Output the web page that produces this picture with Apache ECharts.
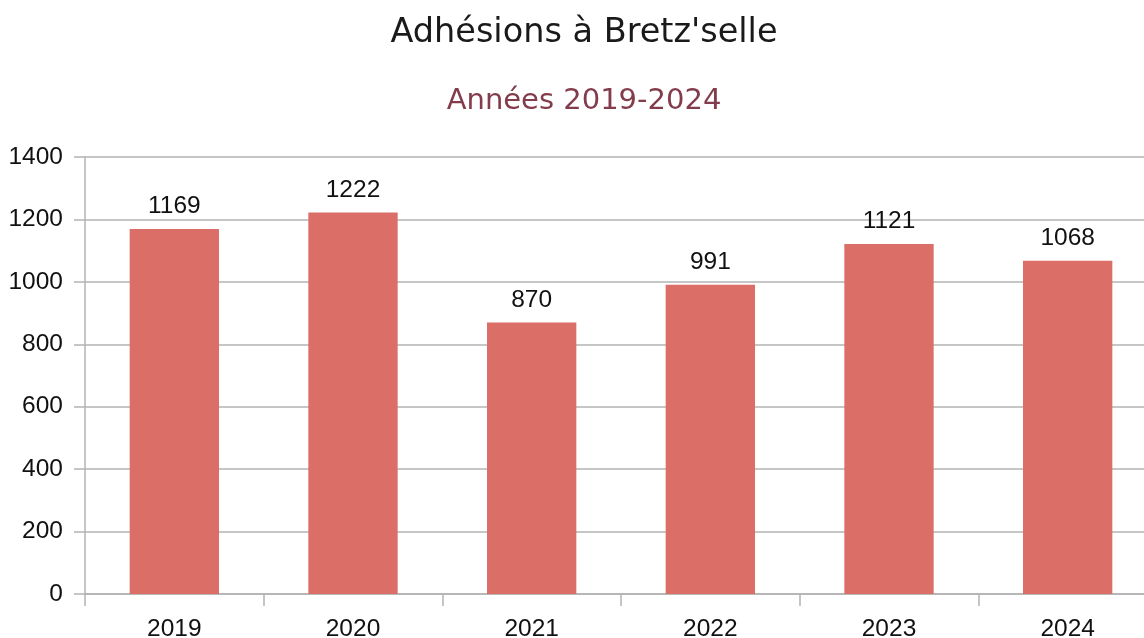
<!DOCTYPE html>
<html>
<head>
    <meta charset="utf-8">
    <title>Adhésions à Bretz'selle</title>
    <script src="https://cdn.jsdelivr.net/npm/echarts@6/dist/echarts.min.js"></script>
    <style>
        html, body { margin: 0; padding: 0; background: #fff; overflow: hidden; width: 1144px; height: 638px; }
        /* le graphique d'origine est coupé à droite */
        #chart { width: 1157px; height: 638px; }
    </style>
</head>
<body>
<div id="chart"></div>
<script type="text/javascript">
    // données
    var annees = ['2019', '2020', '2021', '2022', '2023', '2024'];
    var adhesions = [1169, 1222, 870, 991, 1121, 1068];
    var graduations = [0, 200, 400, 600, 800, 1000, 1200, 1400];

    var chart = echarts.init(document.getElementById('chart'));
    chart.setOption({
        animation: false,
        title: [{
            text: "Adhésions à Bretz'selle",
            left: 579,
            textAlign: 'center',
            top: 11,
            textStyle: { fontFamily: 'DejaVu Sans', fontSize: 33.5, fontWeight: 'normal', color: '#1a1a1a' }
        }, {
            text: 'Années 2019-2024',
            left: 579,
            textAlign: 'center',
            top: 82,
            textStyle: { fontFamily: 'DejaVu Sans', fontSize: 29, fontWeight: 'normal', color: '#833c4c' }
        }],
        grid: { left: 85, right: 0, top: 157, bottom: 44, outerBoundsMode: 'none', containLabel: false },
        xAxis: {
            type: 'category',
            data: annees,
            axisLine: { lineStyle: { color: '#b3b3b3', width: 1.5 } },
            axisTick: { show: true, alignWithLabel: false, length: 12, lineStyle: { color: '#b3b3b3', width: 1.5 } },
            axisLabel: { margin: 23, fontFamily: 'Liberation Sans', fontSize: 24.5, color: '#111' }
        },
        yAxis: {
            type: 'value',
            min: graduations[0],
            max: graduations[graduations.length - 1],
            interval: graduations[1] - graduations[0],
            axisLine: { show: true, lineStyle: { color: '#b3b3b3', width: 1.5 } },
            axisTick: { show: true, length: 11, lineStyle: { color: '#b3b3b3', width: 1.5 } },
            splitLine: { lineStyle: { color: '#b3b3b3', width: 1.5 } },
            axisLabel: {
                margin: 22,
                fontFamily: 'Liberation Sans',
                fontSize: 24.5,
                color: '#111',
                formatter: function (v) { return String(v); }
            }
        },
        series: [{
            type: 'bar',
            data: adhesions,
            barWidth: '50%',
            itemStyle: { color: '#dc6e68' },
            label: {
                show: true,
                position: 'top',
                distance: 10,
                fontFamily: 'Liberation Sans',
                fontSize: 24.5,
                color: '#111'
            }
        }]
    });
</script>
</body>
</html>
